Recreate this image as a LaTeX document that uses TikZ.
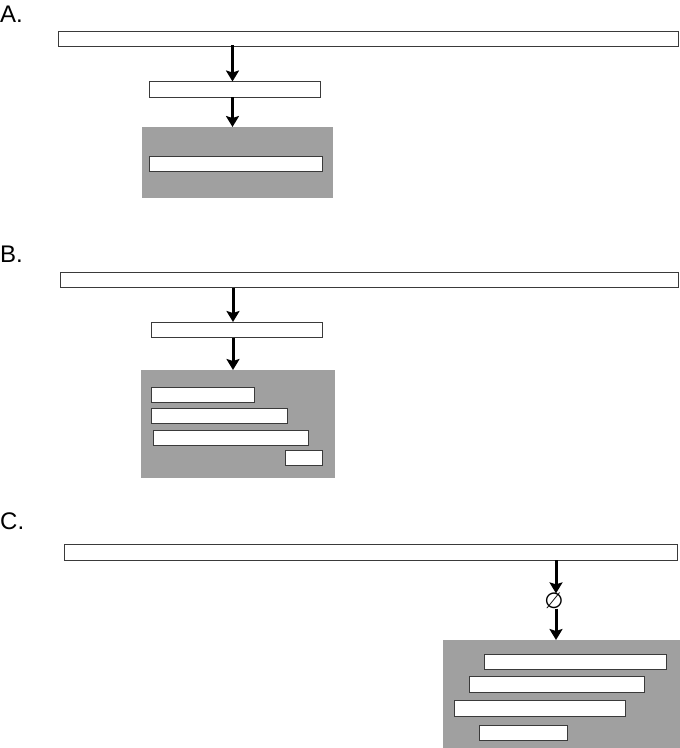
\documentclass[tikz,border=0pt]{standalone}
\usepackage{fontspec}
\setmainfont{Liberation Sans}
\newfontfamily\symfont{DejaVu Sans}
\usetikzlibrary{arrows.meta}
\definecolor{boxgray}{HTML}{A0A0A0}
\definecolor{edge}{HTML}{3A3A3A}
\tikzset{
  bar/.style={draw=edge, fill=white, line width=0.9pt, rectangle, inner sep=0pt, outer sep=0pt, anchor=north west},
  panel/.style={fill=boxgray, draw=none, rectangle, inner sep=0pt, outer sep=0pt, anchor=north west},
  arr/.style={line width=3pt, -{Stealth[length=11pt,width=13pt,inset=2pt]}},
  lbl/.style={font=\fontsize{24}{26}\selectfont, anchor=base west, inner sep=0pt}
}
\begin{document}
\begin{tikzpicture}[x=1pt,y=-1pt]
\useasboundingbox (0,0) rectangle (680,748);
% ---------- A ----------
\node[lbl] (la) at (0,22) {A.};
\node[bar, minimum width=620pt, minimum height=15.5pt] (a1) at (58,31) {};
\node[bar, minimum width=171pt, minimum height=15.5pt] (a2) at (149,81.5) {};
\node[panel, minimum width=191pt, minimum height=71pt] (ap) at (142,127) {};
\node[bar, minimum width=172.5pt, minimum height=15pt] (a3) at (149.5,156) {};
\coordinate (ax) at (232.5,0);
\draw[arr] ([yshift=1.5pt]a1.south -| ax) -- (a2.north -| ax);
\draw[arr] (a2.south -| ax) -- (ap.north -| ax);
% ---------- B ----------
\node[lbl] (lb) at (0,262) {B.};
\node[bar, minimum width=618pt, minimum height=15.5pt] (b1) at (60,272) {};
\node[bar, minimum width=171pt, minimum height=15.5pt] (b2) at (151.5,322) {};
\node[panel, minimum width=194pt, minimum height=108pt] (bp) at (141,370) {};
\node[bar, minimum width=102.5pt, minimum height=15.5pt] (b3) at (151.5,387.3) {};
\node[bar, minimum width=135.5pt, minimum height=15pt] (b4) at (151.5,408.7) {};
\node[bar, minimum width=155pt, minimum height=15.3pt] (b5) at (153.3,430) {};
\node[bar, minimum width=36.5pt, minimum height=15.3pt] (b6) at (285.7,450) {};
\coordinate (bx) at (233,0);
\draw[arr] (b1.south -| bx) -- (b2.north -| bx);
\draw[arr] (b2.south -| bx) -- (bp.north -| bx);
% ---------- C ----------
\node[lbl] (lc) at (0,529.5) {C.};
\node[bar, minimum width=613.5pt, minimum height=15.5pt] (c1) at (64,544.5) {};
\node[panel, minimum width=237pt, minimum height=108pt] (cp) at (443,640) {};
\node[bar, minimum width=182.5pt, minimum height=15pt] (c2) at (484.3,654) {};
\node[bar, minimum width=175pt, minimum height=15.3pt] (c3) at (469.3,676.7) {};
\node[bar, minimum width=171.4pt, minimum height=15.3pt] (c4) at (454.3,700.7) {};
\node[bar, minimum width=87.7pt, minimum height=15.7pt] (c5) at (479.3,725) {};
\node[font=\symfont\fontsize{22}{22}\selectfont, inner sep=0pt] (nul) at (554,601) {∅};
\coordinate (cx) at (556,0);
\draw[arr] (c1.south -| cx) -- ([yshift=-0.5pt]nul.north -| cx);
\draw[arr] ([yshift=0.5pt]nul.south -| cx) -- (cp.north -| cx);
\end{tikzpicture}
\end{document}
